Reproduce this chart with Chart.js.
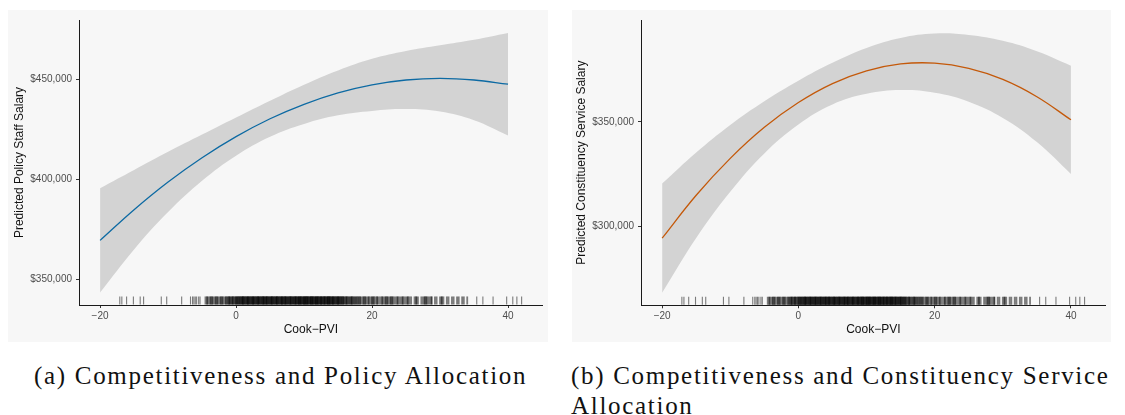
<!DOCTYPE html>
<html lang="en">
<head>
    <meta charset="UTF-8">
    <title>Competitiveness and Staff Allocation</title>
    <script src="https://cdn.jsdelivr.net/npm/chart.js"></script>
    <style>
        body {
            margin: 0;
            background-color: #fff;
            width: 1125px;
            height: 415px;
            position: relative;
            overflow: hidden;
        }

        .panel {
            position: absolute;
            top: 10px;
            background-color: #f7f7f7;
        }

        .caption {
            position: absolute;
            top: 361px;
            font-family: "Liberation Serif", "DejaVu Serif", serif;
            font-size: 25px;
            letter-spacing: 1.7px;
            line-height: 30px;
            color: #111;
            white-space: nowrap;
        }
    </style>
</head>
<body>
    <div class="panel" style="left:8px; width:540px; height:332px;">
        <canvas id="policyChart" width="540" height="332"></canvas>
    </div>
    <div class="panel" style="left:572px; width:539px; height:332px;">
        <canvas id="serviceChart" width="539" height="332"></canvas>
    </div>
    <div class="caption" style="left:34px;">(a) Competitiveness and Policy Allocation</div>
    <div class="caption" style="left:571px;">(b) Competitiveness and Constituency Service<br>Allocation</div>

    <script>
        // Cook-PVI grid the fitted curves are read at
        const pvi = [-20, -15, -10, -5, 0, 5, 10, 15, 20, 25, 30, 35, 40];

        // (a) policy staff salary: fit and 95% band
        const policyFit   = [369600, 384900, 398700, 410800, 421300, 430200, 437400, 443100, 447100, 449500, 450300, 449500, 447400];
        const policyUpper = [395600, 404700, 413700, 422300, 430800, 439200, 447200, 454300, 460100, 464000, 466800, 469500, 472900];
        const policyLower = [343600, 365100, 383700, 399300, 411800, 421200, 427600, 431900, 434100, 435000, 433800, 429500, 421900];

        // (b) constituency service salary: fit and 95% band
        const serviceFit   = [294200, 314800, 332500, 347400, 359300, 368400, 374500, 377800, 378200, 375700, 370400, 362100, 351000];
        const serviceUpper = [320400, 335300, 348500, 359900, 369800, 378400, 385500, 390300, 392400, 391700, 388900, 383900, 377000];
        const serviceLower = [268000, 294300, 316500, 334900, 348800, 358400, 363500, 365300, 364000, 359700, 351900, 340300, 325000];

        const xTicks = [-20, 0, 20, 40];
        const policyTicks = [350000, 400000, 450000];
        const serviceTicks = [300000, 350000];

        // rug of district Cook-PVI values (isolated marks)
        const rugSparse = [-17.1, -16.8, -16.1, -15.1, -14.1, -13.6, -11, -10.2, -8,
            -6.7, -6.4, -6.2, -6, -5.8, -5.5, -5.3,
            35.4, 36.3, 37.8, 39.8, 40.7, 41.3, 42];
        // dense part of the rug: position and how many districts sit there
        const rugValues = [
            -4.5, -4.25, -4, -3.75, -3.5, -3.25, -3, -2.75, -2.5, -2.25,
            -2, -1.75, -1.5, -1.25, -1, -0.75, -0.5, -0.25, 0, 0.25,
            0.5, 0.75, 1, 1.25, 1.5, 1.75, 2, 2.25, 2.5, 2.75,
            3, 3.25, 3.5, 3.75, 4, 4.25, 4.5, 4.75, 5, 5.25,
            5.5, 5.75, 6, 6.25, 6.5, 6.75, 7, 7.25, 7.5, 7.75,
            8, 8.25, 8.5, 8.75, 9, 9.25, 9.5, 9.75, 10, 10.25,
            10.5, 10.75, 11, 11.25, 11.5, 11.75, 12, 12.25, 12.5, 12.75,
            13, 13.25, 13.5, 13.75, 14, 14.25, 14.5, 14.75, 15, 15.25,
            15.5, 15.75, 16, 16.25, 16.5, 16.75, 17, 17.25, 17.5, 17.75,
            18, 18.25, 18.5, 18.75, 19, 19.25, 19.5, 19.75, 20, 20.25,
            20.5, 20.75, 21, 21.25, 21.5, 21.75, 22, 22.25, 22.5, 22.75,
            23, 23.25, 23.5, 23.75, 24, 24.25, 24.5, 24.75, 25, 25.25,
            25.5, 25.75, 26, 26.25, 26.5, 26.75, 27, 27.25, 27.5, 27.75,
            28, 28.25, 28.5, 28.75, 29, 29.25, 29.5, 29.75, 30, 30.25,
            30.5, 30.75, 31, 31.25, 31.5, 31.75, 32, 32.25, 32.5, 32.75,
            33, 33.25, 33.5, 33.75, 34
        ];
        const rugCounts = [
            1, 2, 1, 2, 2, 1, 2, 2, 1, 2,
            2, 1, 2, 2, 3, 2, 3, 2, 3, 3,
            3, 3, 4, 3, 3, 4, 3, 3, 4, 3,
            3, 4, 3, 3, 4, 3, 4, 3, 3, 4,
            3, 3, 4, 3, 3, 4, 3, 4, 3, 3,
            4, 3, 3, 4, 3, 4, 4, 3, 4, 4,
            4, 3, 4, 4, 3, 4, 4, 3, 4, 3,
            4, 3, 4, 4, 3, 4, 3, 3, 4, 3,
            3, 3, 2, 3, 2, 2, 3, 2, 2, 2,
            2, 2, 1, 2, 2, 1, 2, 1, 2, 2,
            1, 2, 1, 1, 2, 1, 2, 2, 1, 2,
            2, 1, 1, 2, 1, 1, 2, 1, 1, 2,
            1, 1, 0, 1, 2, 1, 0, 1, 1, 2,
            2, 1, 1, 2, 0, 1, 1, 0, 1, 2,
            1, 0, 1, 1, 0, 1, 1, 0, 1, 1,
            0, 1, 1, 0, 1
        ];

        const sansFont = '"Liberation Sans", Arial, sans-serif';

        // draws the rug along the x axis using the chart's own x scale
        const rugPlugin = {
            id: 'rug',
            afterDatasetsDraw(chart) {
                const ctx = chart.ctx;
                const xs = chart.scales.x;
                const area = chart.chartArea;
                const len = (area.bottom - area.top) * 0.03;
                ctx.save();
                ctx.strokeStyle = 'rgba(0, 0, 0, 0.5)';
                const tick = v => {
                    const px = xs.getPixelForValue(v);
                    ctx.beginPath();
                    ctx.moveTo(px, area.bottom - 0.5);
                    ctx.lineTo(px, area.bottom - len);
                    ctx.stroke();
                };
                ctx.lineWidth = 1.1;
                rugSparse.forEach(tick);
                // dense marks are wide enough to touch their neighbours
                ctx.lineWidth = 1.8;
                rugValues.forEach((v, i) => {
                    for (let k = 0; k < rugCounts[i]; k++) tick(v);
                });
                ctx.restore();
            }
        };

        function toPoints(ys) {
            return pvi.map((x, i) => ({ x: x, y: ys[i] }));
        }

        function makeChart(id, opts) {
            return new Chart(document.getElementById(id), {
                type: 'line',
                data: {
                    datasets: [{
                        data: toPoints(opts.fit),
                        borderColor: opts.color,
                        borderWidth: 1.3,
                        pointRadius: 0,
                        tension: 0.4,
                        fill: false
                    }, {
                        data: toPoints(opts.upper),
                        borderWidth: 0,
                        pointRadius: 0,
                        tension: 0.4,
                        backgroundColor: '#d3d3d3',
                        fill: '+1'
                    }, {
                        data: toPoints(opts.lower),
                        borderWidth: 0,
                        pointRadius: 0,
                        tension: 0.4,
                        fill: false
                    }]
                },
                options: {
                    responsive: false,
                    animation: false,
                    layout: { padding: { left: 0, top: 6, right: 5.3, bottom: 0 } },
                    plugins: { legend: { display: false }, tooltip: { enabled: false } },
                    scales: {
                        x: {
                            type: 'linear',
                            min: -23.1,
                            max: 45.1,
                            afterBuildTicks: s => { s.ticks = xTicks.map(v => ({ value: v })); },
                            afterFit: s => { s.height = opts.xHeight; },
                            grid: { drawOnChartArea: false, tickLength: 3, tickColor: '#333' },
                            border: { color: '#1a1a1a', width: 1 },
                            ticks: {
                                padding: 2,
                                color: '#4d4d4d',
                                font: { family: sansFont, size: 10 },
                                maxRotation: 0,
                                callback: v => String(v).replace('-', '\u2212')
                            },
                            title: {
                                display: true,
                                text: 'Cook\u2212PVI',
                                color: '#111',
                                font: { family: sansFont, size: 12 },
                                padding: { top: 0, bottom: 4.8 }
                            }
                        },
                        y: {
                            min: opts.yMin,
                            max: opts.yMax,
                            afterBuildTicks: s => { s.ticks = opts.ticks.map(v => ({ value: v })); },
                            afterFit: s => { s.width = opts.yWidth; },
                            grid: { drawOnChartArea: false, tickLength: 3, tickColor: '#333' },
                            border: { color: '#1a1a1a', width: 1 },
                            ticks: {
                                padding: 4,
                                color: '#4d4d4d',
                                font: { family: sansFont, size: 10 },
                                callback: v => '$' + v.toLocaleString('en-US')
                            },
                            title: {
                                display: true,
                                text: opts.yTitle,
                                color: '#111',
                                font: { family: sansFont, size: 12 },
                                padding: { top: opts.titleX, bottom: 0 }
                            }
                        }
                    }
                },
                plugins: [rugPlugin]
            });
        }

        makeChart('policyChart', {
            fit: policyFit, upper: policyUpper, lower: policyLower,
            color: '#0d6aa3',
            yMin: 337400, yMax: 479400, ticks: policyTicks,
            yTitle: 'Predicted Policy Staff Salary',
            yWidth: 71, xHeight: 37, titleX: 4.8
        });

        makeChart('serviceChart', {
            fit: serviceFit, upper: serviceUpper, lower: serviceLower,
            color: '#c4590a',
            yMin: 262000, yMax: 398900, ticks: serviceTicks,
            yTitle: 'Predicted Constituency Service Salary',
            yWidth: 69, xHeight: 36.7, titleX: 2.5
        });
    </script>
</body>
</html>
